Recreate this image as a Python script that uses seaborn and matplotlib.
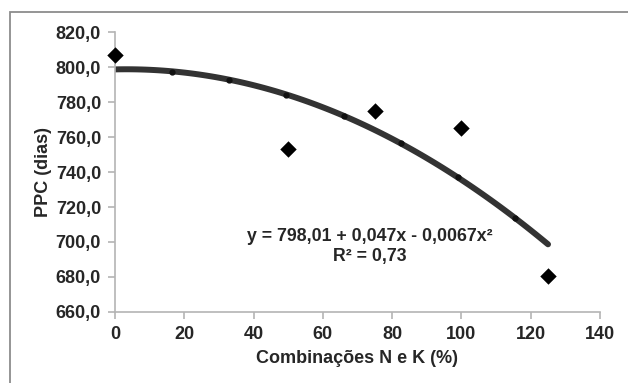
import numpy as np
import pandas as pd
import matplotlib
matplotlib.use("Agg")
import matplotlib.pyplot as plt
import seaborn as sns
from matplotlib.patches import Rectangle
from matplotlib.ticker import FuncFormatter

doses = [0, 50, 75, 100, 125]
ppc = [806.8, 753.1, 775.0, 765.3, 680.6]

# small markers drawn along the fitted curve
curve_x = [16.5, 33, 49.5, 66, 82.5, 99, 115.5]
curve_y = [797.0, 792.4, 783.9, 772.2, 756.4, 737.0, 714.0]

x_ticks = [0, 20, 40, 60, 80, 100, 120, 140]
y_ticks = [660, 680, 700, 720, 740, 760, 780, 800, 820]

eq_text = "y = 798,01 + 0,047x - 0,0067x²"
r2_text = "R² = 0,73"

df = pd.DataFrame({"dose": doses, "ppc": ppc})

sns.set_style("white")
plt.rcParams['font.family'] = ['Liberation Sans', 'DejaVu Sans']
plt.rcParams['font.weight'] = 'bold'

fig = plt.figure(figsize=(6.28, 3.83), dpi=100)
ax = fig.add_axes([0.1831, 0.1854, 0.7723, 0.731])

# outer frame of the chart area
fig.patches.append(Rectangle((9.5 / 628, -0.1), 1.2, 1 - 11.5 / 383 + 0.1,
                             transform=fig.transFigure, fill=False,
                             edgecolor='#8c8c8c', linewidth=1.3, zorder=0))

# quadratic trend line fitted by seaborn
sns.regplot(data=df, x='dose', y='ppc', order=2, ci=None, scatter=False,
            truncate=True, line_kws=dict(color='#333333', lw=4.3,
                                         solid_capstyle='round'), ax=ax)
ax.plot(curve_x, curve_y, linestyle='none', marker='o', ms=3.5,
        color='#111111', zorder=3)

# observed points
sns.scatterplot(data=df, x='dose', y='ppc', marker='D', s=70,
                color='black', linewidth=0, zorder=4, clip_on=False, ax=ax)

ax.set_xlim(0, 140)
ax.set_ylim(660, 820)
ax.set_xticks(x_ticks)
ax.set_yticks(y_ticks)
ax.yaxis.set_major_formatter(FuncFormatter(lambda v, p: f"{v:.1f}".replace('.', ',')))

for side in ['top', 'right']:
    ax.spines[side].set_visible(False)
for side in ['left', 'bottom']:
    ax.spines[side].set_color('#b4b4b4')
    ax.spines[side].set_linewidth(1.2)
ax.tick_params(axis='both', direction='out', length=5, width=1.2,
               color='#b4b4b4', labelsize=13, pad=5,
               bottom=True, left=True)
for lab in ax.get_xticklabels() + ax.get_yticklabels():
    lab.set_fontweight('bold')

ax.set_xlabel('Combinações N e K (%)', fontsize=13, fontweight='bold', labelpad=5)
ax.set_ylabel('PPC (dias)', fontsize=13, fontweight='bold', labelpad=3)

ax.text(73.6, 703.0, eq_text, ha='center', va='center', fontsize=12.8,
        fontweight='bold')
ax.text(73.6, 691.5, r2_text, ha='center', va='center', fontsize=12.8,
        fontweight='bold')

fig.savefig('out.png', dpi=100)
